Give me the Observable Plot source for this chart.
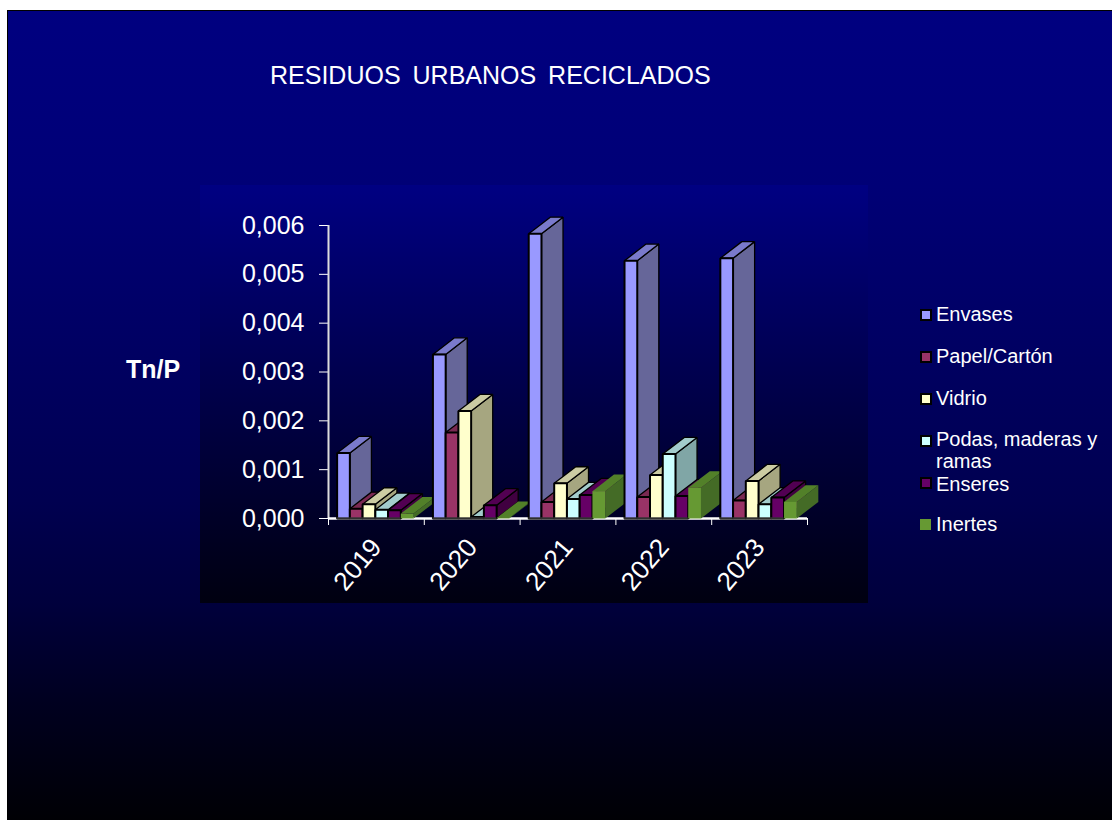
<!DOCTYPE html>
<html><head><meta charset="utf-8">
<script src="https://cdn.jsdelivr.net/npm/d3@7"></script>
<script src="https://cdn.jsdelivr.net/npm/@observablehq/plot@0.6"></script>
<style>
html,body{margin:0;padding:0;background:#fff;width:1112px;height:820px;overflow:hidden;font-family:"Liberation Sans",Arial,sans-serif}
#slide{position:absolute;left:7px;top:10px;width:1105px;height:810px;border-top:1px solid #000;border-left:1px solid #000;box-sizing:border-box;background:linear-gradient(rgb(0,0,128) 0px,rgb(0,0,118) 175px,rgb(0,0,80) 490px,rgb(0,0,60) 593px,rgb(0,0,32) 690px,rgb(0,0,4) 810px)}
#panel{position:absolute;left:200px;top:185px;width:668px;height:418px;background:linear-gradient(#000082,#000010)}
#chart svg{position:absolute;left:200px;top:185px;background:transparent;overflow:visible}
.t{position:absolute;color:#fff;white-space:nowrap}
#title{left:270px;top:60px;font-size:25px;word-spacing:5px;line-height:30px}
#unit{left:126px;top:354px;font-size:25px;font-weight:bold;line-height:30px}
.sw{position:absolute;width:8px;height:8px;border:2px solid #000}
.lg{font-size:20px;line-height:18px;left:936px}
</style></head><body>
<div id="slide"></div><div id="panel"></div>
<div class="t" id="title">RESIDUOS URBANOS RECICLADOS</div>
<div class="t" id="unit">Tn/P</div>
<div id="chart"></div><div id="legend"></div>
<script>
const years = ["2019","2020","2021","2022","2023"];
const envases = [0.00134,0.00336,0.00583,0.00528,0.00533];
const papel   = [0.00020,0.00176,0.00034,0.00044,0.00037];
const vidrio  = [0.00029,0.00220,0.00072,0.00089,0.00077];
const podas   = [0.00018,0.00003,0.00040,0.00132,0.00029];
const enseres = [0.00017,0.00027,0.00048,0.00046,0.00043];
const inertes = [0.00010,0.00001,0.00056,0.00063,0.00034];
const seriesNames = ["Envases","Papel/Cartón","Vidrio","Podas, maderas y","Enseres","Inertes"];
const seriesValues = [envases,papel,vidrio,podas,enseres,inertes];
const frontColors = ["#9999FF","#993366","#FFFFCC","#CCFFFF","#660066","#669933"];
const sideColors  = ["#666699","#4D1A40","#A6A680","#80A6A6","#400040","#446B26"];
const topColors   = ["#7A7ACC","#7A2952","#CCCCA3","#A3CCCC","#520052","#528029"];
const edgeColors  = ["#000","#000","#000","#000","#000","none"];

const barW = 0.133, startX = 0.09, depthX = 0.225, depthY = 0.00034;
const polys = [], bases = [];
years.forEach((yr,i)=>{
  seriesValues.forEach((vals,s)=>{
    const v = vals[i], x0 = i+startX+s*barW, x1 = x0+barW;
    const add = (face,fill,sw,pts)=>pts.forEach(([x,y])=>polys.push({id:`${yr}-${s}-${face}`,x,y,fill,sw,edge:edgeColors[s]}));
    add("side",sideColors[s],1.3,[[x1,v],[x1+depthX,v+depthY],[x1+depthX,depthY],[x1,0]]);
    add("top",topColors[s],1.3,[[x0,v],[x1,v],[x1+depthX,v+depthY],[x0+depthX,v+depthY]]);
    add("front",frontColors[s],2,[[x0,0],[x0,v],[x1,v],[x1,0]]);
    if (s<5) bases.push({x1:x0,x2:x1});
  });
});
const fmt = d=>d3.format(".3f")(d).replace(".",",");
const plot = Plot.plot({
  width:668,height:418,marginLeft:128,marginRight:61,marginTop:40,marginBottom:85,
  style:{background:"transparent",fontFamily:"'Liberation Sans',Arial,sans-serif",color:"#fff",overflow:"visible"},
  x:{domain:[0,5],label:null},
  y:{domain:[0,0.006],label:null},
  color:{type:"identity"},
  marks:[
    Plot.axisY({ticks:[0,0.001,0.002,0.003,0.004,0.005,0.006],tickFormat:fmt,tickSize:9,tickPadding:15,fontSize:25,color:"#fff",label:null}),
    Plot.axisX({ticks:[0,1,2,3,4,5],tickFormat:()=>"",tickSize:7,color:"#fff",label:null}),
    Plot.axisX({ticks:[0.5,1.5,2.5,3.5,4.5],tickFormat:d=>years[Math.floor(d)],tickSize:0,tickPadding:24,tickRotate:-50,fontSize:26,color:"#fff",label:null}),
    Plot.ruleX([0],{stroke:"#ddd",strokeWidth:2}),
    Plot.ruleY([0],{stroke:"#fff",strokeWidth:2.5}),
    Plot.line(polys,{x:"x",y:"y",z:"id",fill:"fill",stroke:"edge",strokeWidth:"sw",curve:"linear-closed",strokeLinejoin:"miter"}),
    Plot.ruleY(bases,{x1:"x1",x2:"x2",y:0,stroke:"#555",strokeOpacity:0.55,strokeWidth:2.5})
  ]
});
document.getElementById("chart").appendChild(plot);

const legendY = [314,356,398,440,482,524];
const textY   = [314,356,398,439,484,524];
const lg = document.getElementById("legend");
const addText = (text,top)=>{
  const t = document.createElement("div");
  t.className="t lg"; t.style.top=top+"px"; t.textContent=text;
  lg.appendChild(t);
};
seriesNames.forEach((n,i)=>{
  const sw = document.createElement("div");
  sw.className="sw";
  sw.style.left="920px"; sw.style.top=(legendY[i]-5)+"px"; sw.style.background=frontColors[i];
  if(i===5){sw.style.border="none";sw.style.width="11px";sw.style.height="11px";}
  lg.appendChild(sw);
  addText(n,textY[i]-9);
});
addText("ramas",452);
</script></body></html>
